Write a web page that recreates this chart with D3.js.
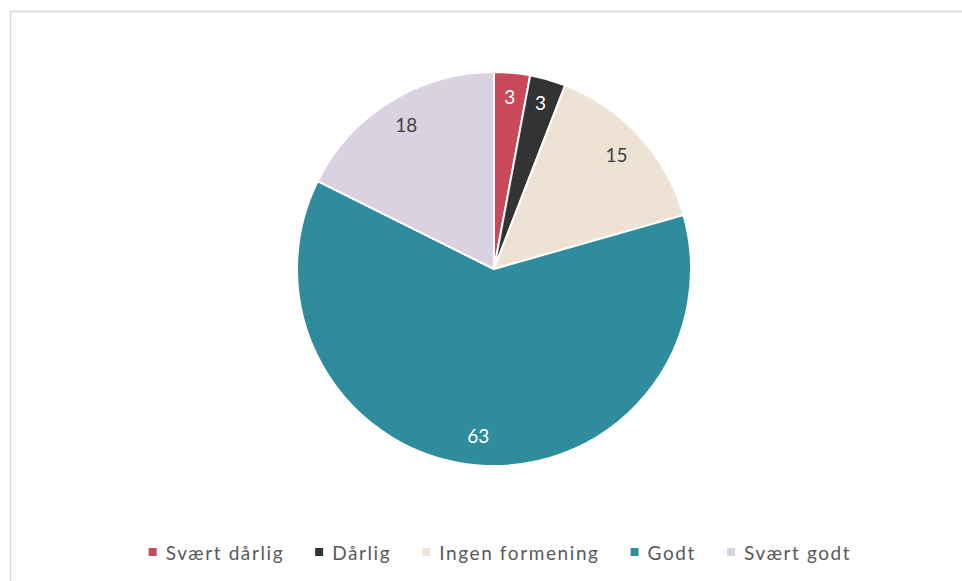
<!DOCTYPE html>
<html>
<head>
<meta charset="utf-8">
<script src="https://cdn.jsdelivr.net/npm/d3@7"></script>
<style>
  html, body { margin: 0; padding: 0; background: #fff; }
  svg { display: block; }
  text { font-family: Lato, "Open Sans", sans-serif; }
</style>
</head>
<body>
<svg id="chart" width="962" height="581"></svg>
<script>
// Survey answers, in pie order (clockwise from 12 o'clock)
const categories = ["Svært dårlig", "Dårlig", "Ingen formening", "Godt", "Svært godt"];
const values = [3, 3, 15, 63, 18];
const colors = ["#C8495A", "#333333", "#EDE2D3", "#2E8C9C", "#DAD2E1"];
const labelColors = ["#ffffff", "#ffffff", "#404040", "#ffffff", "#404040"];

const W = 962, H = 581;
const cx = 494, cy = 269, radius = 197;

const svg = d3.select("#chart");

// chart frame
svg.append("rect")
  .attr("x", 10.5).attr("y", 11.5)
  .attr("width", W + 20).attr("height", H + 20)
  .attr("fill", "#fff")
  .attr("stroke", "#d9d9d9")
  .attr("stroke-width", 1.5);

const data = categories.map((c, i) => ({ name: c, value: values[i], color: colors[i], label: labelColors[i] }));

const pie = d3.pie().value(d => d.value).sort(null);
const arcs = pie(data);

const arc = d3.arc().innerRadius(0).outerRadius(radius);

const g = svg.append("g").attr("transform", `translate(${cx},${cy})`);

g.selectAll("path.slice")
  .data(arcs)
  .join("path")
  .attr("class", "slice")
  .attr("d", arc)
  .attr("fill", d => d.data.color)
  .attr("stroke", "#fff")
  .attr("stroke-width", 2)
  .attr("stroke-linejoin", "round");

// value labels placed just inside the rim of each slice
const labels = g.selectAll("text.val")
  .data(arcs)
  .join("text")
  .attr("class", "val")
  .attr("text-anchor", "middle")
  .attr("dominant-baseline", "central")
  .attr("dy", -3)
  .attr("font-size", 19)
  .attr("fill", d => d.data.label)
  .text(d => d.data.value);

const pad = 17;
labels.each(function (d) {
  const bb = this.getBBox();
  const a = (d.startAngle + d.endAngle) / 2;
  const s = Math.sin(a), c = Math.cos(a);
  const extent = (bb.width / 2) * Math.abs(s) + 9 * Math.abs(c);
  const r = radius - pad - extent;
  d3.select(this).attr("transform", `translate(${r * s},${-r * c})`);
});

// legend: one row under the pie
const legendY = 552;
const sq = 8, sqGap = 9, itemGap = 31;
const legend = svg.append("g");
const items = legend.selectAll("g.item")
  .data(data)
  .join("g")
  .attr("class", "item");

items.append("rect")
  .attr("width", sq).attr("height", sq)
  .attr("y", legendY - sq / 2)
  .attr("fill", d => d.color);

items.append("text")
  .attr("y", legendY)
  .attr("dominant-baseline", "central")
  .attr("font-size", 19)
  .attr("letter-spacing", 1.6)
  .attr("fill", "#595959")
  .text(d => d.name);

let x = 0;
const offsets = [];
items.each(function () {
  const tw = d3.select(this).select("text").node().getBBox().width;
  offsets.push(x);
  x += sq + sqGap + tw + itemGap;
});
const total = x - itemGap;
const startX = W / 2 + 19 - total / 2;
items.each(function (d, i) {
  const s = d3.select(this);
  s.select("rect").attr("x", startX + offsets[i]);
  s.select("text").attr("x", startX + offsets[i] + sq + sqGap);
});
</script>
</body>
</html>
